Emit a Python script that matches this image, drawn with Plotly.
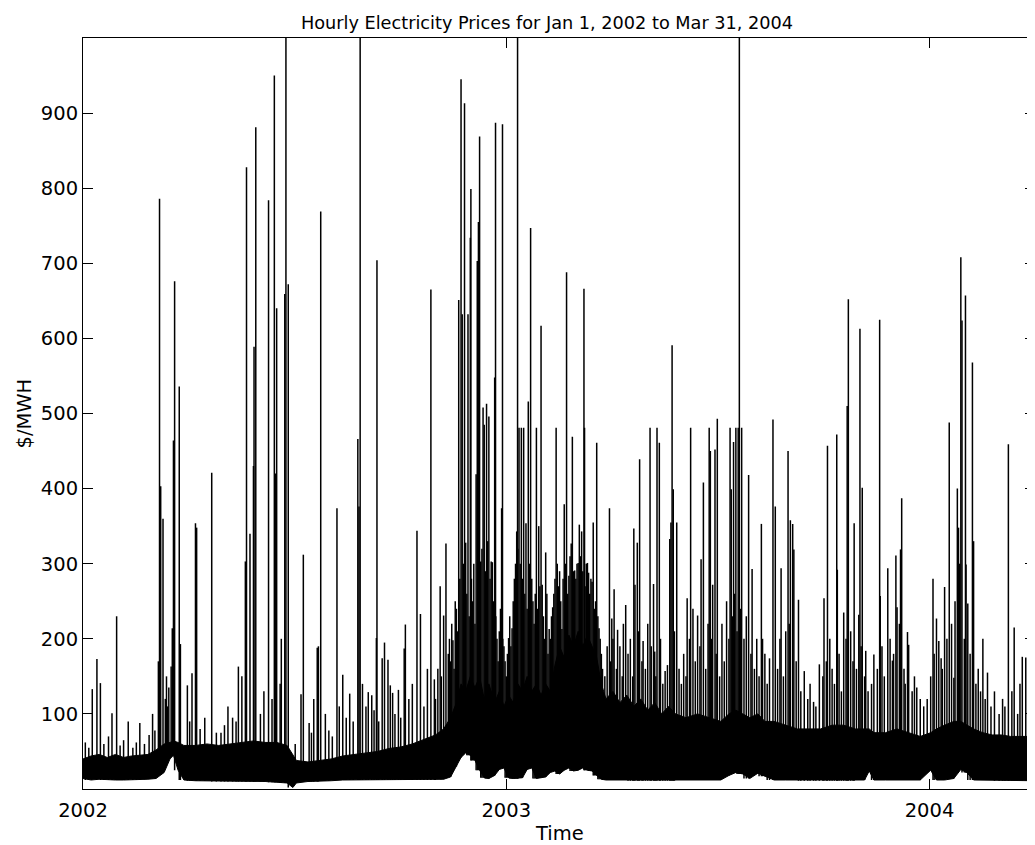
import pandas as pd
import plotly.graph_objects as go

# dense hourly band (low edge / top of the solid black mass)
band_dates = [
    "2002-01-01", "2002-01-08", "2002-01-15", "2002-01-22", "2002-01-29", "2002-02-05",
    "2002-02-12", "2002-02-19", "2002-02-26", "2002-03-05", "2002-03-12", "2002-03-17",
    "2002-03-20", "2002-03-24", "2002-03-29", "2002-04-08", "2002-04-18", "2002-04-28",
    "2002-05-08", "2002-05-18", "2002-05-28", "2002-06-07", "2002-06-17", "2002-06-26",
    "2002-07-01", "2002-07-04", "2002-07-14", "2002-07-24", "2002-08-03", "2002-08-13",
    "2002-08-23", "2002-09-02", "2002-09-12", "2002-09-22", "2002-10-02", "2002-10-12",
    "2002-10-22", "2002-11-01", "2002-11-08", "2002-11-14", "2002-11-19", "2002-11-23",
    "2002-11-27", "2002-12-01", "2002-12-05", "2002-12-09", "2002-12-13", "2002-12-17",
    "2002-12-22", "2002-12-26", "2002-12-30", "2003-01-03", "2003-01-07", "2003-01-11",
    "2003-01-15", "2003-01-19", "2003-01-23", "2003-01-27", "2003-01-31", "2003-02-04",
    "2003-02-08", "2003-02-12", "2003-02-16", "2003-02-20", "2003-02-24", "2003-02-28",
    "2003-03-04", "2003-03-08", "2003-03-12", "2003-03-16", "2003-03-20", "2003-03-24",
    "2003-03-28", "2003-04-03", "2003-04-09", "2003-04-15", "2003-04-21", "2003-04-27",
    "2003-05-03", "2003-05-09", "2003-05-15", "2003-05-21", "2003-05-27", "2003-06-05",
    "2003-06-15", "2003-06-25", "2003-07-05", "2003-07-12", "2003-07-18", "2003-07-24",
    "2003-07-30", "2003-08-06", "2003-08-12", "2003-08-20", "2003-08-30", "2003-09-09",
    "2003-09-19", "2003-09-29", "2003-10-09", "2003-10-19", "2003-10-29", "2003-11-06",
    "2003-11-10", "2003-11-14", "2003-11-24", "2003-12-04", "2003-12-14", "2003-12-24",
    "2004-01-02", "2004-01-07", "2004-01-14", "2004-01-22", "2004-01-28", "2004-02-02",
    "2004-02-08", "2004-02-16", "2004-02-24", "2004-03-03", "2004-03-11", "2004-03-19",
    "2004-03-26", "2004-03-31 23:00",
]
band_low = [
    14, 12, 13, 12, 12, 12,
    12, 12, 13, 14, 22, 40,
    45, 25, 12, 11, 11, 10,
    10, 10, 10, 10, 9, 8,
    2, 8, 10, 10, 11, 12,
    12, 12, 12, 12, 12, 12,
    12, 12, 13, 16, 30, 42,
    48, 45, 38, 25, 15, 14,
    18, 26, 28, 15, 14, 14,
    15, 26, 28, 14, 15, 16,
    22, 24, 20, 25, 28, 24,
    25, 28, 25, 24, 18, 13,
    12, 12, 12, 12, 11, 11,
    11, 11, 11, 11, 11, 12,
    12, 12, 12, 18, 22, 20,
    14, 21, 17, 12, 12, 12,
    11, 11, 11, 11, 11, 12,
    24, 12, 12, 12, 12, 12,
    25, 12, 12, 14, 26, 22,
    12, 12, 12, 11, 11, 11,
    11, 11,
]
band_high = [
    40, 44, 46, 42, 46, 42,
    44, 45, 46, 52, 60, 62,
    64, 62, 58, 58, 60, 58,
    60, 62, 64, 62, 62, 58,
    45, 38, 36, 38, 40, 44,
    46, 48, 50, 54, 56, 60,
    66, 72, 80, 95, 115, 140,
    130, 150, 135, 150, 120, 140,
    115, 130, 110, 125, 115, 140,
    130, 150, 130, 140, 125, 140,
    130, 165, 190, 175, 205, 190,
    210, 190, 205, 190, 175, 140,
    120, 130, 115, 125, 110, 120,
    105, 115, 100, 110, 100, 95,
    100, 95, 90, 100, 105, 100,
    95, 100, 90, 90, 85, 80,
    80, 80, 85, 85, 80, 80,
    80, 75, 75, 80, 75, 70,
    75, 80, 85, 90, 90, 85,
    80, 75, 72, 72, 70, 70,
    70, 70,
]

# tall individual price spikes
spike_dates = [
    "2002-01-09", "2002-01-13", "2002-01-16", "2002-01-26", "2002-01-30", "2002-02-09",
    "2002-02-19", "2002-03-04", "2002-03-07", "2002-03-08", "2002-03-09", "2002-03-11",
    "2002-03-18", "2002-03-19", "2002-03-20", "2002-03-21", "2002-03-25", "2002-03-26",
    "2002-04-01", "2002-04-05", "2002-04-08", "2002-04-09", "2002-04-22", "2002-04-30",
    "2002-05-10", "2002-05-15", "2002-05-21", "2002-05-22", "2002-05-25", "2002-05-28",
    "2002-05-28 12:00", "2002-05-30", "2002-06-10", "2002-06-13", "2002-06-15", "2002-06-16",
    "2002-06-17", "2002-06-24", "2002-06-25", "2002-06-27", "2002-07-08", "2002-07-10",
    "2002-07-15", "2002-07-22", "2002-07-23", "2002-07-25", "2002-08-01", "2002-08-08",
    "2002-08-13", "2002-08-16", "2002-08-19", "2002-08-26", "2002-08-27", "2002-08-28",
    "2002-09-04", "2002-09-07", "2002-09-11", "2002-09-11 12:00", "2002-09-16", "2002-09-18",
    "2002-09-21", "2002-09-23", "2002-09-25", "2002-09-30", "2002-10-05", "2002-10-06",
    "2002-10-16", "2002-10-19", "2002-10-28", "2002-10-31", "2002-11-05", "2002-11-08",
    "2002-11-10", "2002-11-13", "2002-11-16", "2002-11-18", "2002-11-21", "2002-11-23",
    "2002-11-24", "2002-11-26", "2002-11-27", "2002-11-29", "2002-12-01", "2002-12-01 12:00",
    "2002-12-06", "2002-12-07", "2002-12-08", "2002-12-09", "2002-12-10", "2002-12-12",
    "2002-12-13", "2002-12-15", "2002-12-17", "2002-12-19", "2002-12-20", "2002-12-22",
    "2002-12-22 18:00", "2002-12-28", "2002-12-28 18:00", "2003-01-03", "2003-01-06", "2003-01-10",
    "2003-01-10 18:00", "2003-01-12", "2003-01-14", "2003-01-16", "2003-01-18", "2003-01-20",
    "2003-01-22", "2003-01-27", "2003-01-29", "2003-01-31", "2003-02-01", "2003-02-04",
    "2003-02-07", "2003-02-10", "2003-02-13", "2003-02-18", "2003-02-20", "2003-02-22",
    "2003-02-24", "2003-02-26", "2003-02-27", "2003-03-01", "2003-03-04", "2003-03-05",
    "2003-03-07", "2003-03-09", "2003-03-09 12:00", "2003-03-12", "2003-03-13", "2003-03-16",
    "2003-03-17", "2003-03-20", "2003-03-22", "2003-03-31", "2003-04-02", "2003-04-04",
    "2003-04-07", "2003-04-14", "2003-04-21", "2003-04-22", "2003-04-24", "2003-04-26",
    "2003-04-29", "2003-05-05", "2003-05-08", "2003-05-09", "2003-05-11", "2003-05-13",
    "2003-05-18", "2003-05-20", "2003-05-22", "2003-05-23", "2003-05-24", "2003-05-25",
    "2003-05-28", "2003-06-06", "2003-06-09", "2003-06-11", "2003-06-15", "2003-06-18",
    "2003-06-20", "2003-06-25", "2003-06-26", "2003-06-28", "2003-06-30", "2003-07-02",
    "2003-07-13", "2003-07-14", "2003-07-16", "2003-07-18", "2003-07-20", "2003-07-21",
    "2003-07-23", "2003-07-29", "2003-08-01", "2003-08-09", "2003-08-10", "2003-08-16",
    "2003-08-19", "2003-08-21", "2003-08-26", "2003-09-01", "2003-09-03", "2003-09-05",
    "2003-09-06", "2003-09-10", "2003-09-15", "2003-09-23", "2003-09-28", "2003-10-02",
    "2003-10-05", "2003-10-11", "2003-10-13", "2003-10-13 12:00", "2003-10-19", "2003-10-22",
    "2003-10-23", "2003-10-28", "2003-11-01", "2003-11-02", "2003-11-04", "2003-11-07",
    "2003-11-14", "2003-11-19", "2003-11-19 12:00", "2003-11-26", "2003-11-30", "2003-12-03",
    "2003-12-04", "2003-12-07", "2003-12-08", "2003-12-13", "2003-12-14", "2003-12-21",
    "2003-12-24", "2004-01-04", "2004-01-07", "2004-01-09", "2004-01-11", "2004-01-14",
    "2004-01-18", "2004-01-22", "2004-01-25", "2004-01-26", "2004-01-28", "2004-01-29",
    "2004-02-01", "2004-02-01 12:00", "2004-02-03", "2004-02-07", "2004-02-08", "2004-02-16",
    "2004-02-20", "2004-03-09", "2004-03-14", "2004-03-21", "2004-03-24",
]
spike_prices = [
    133, 173, 141, 101, 230, 90,
    88, 78, 170, 786, 403, 360,
    163, 214, 464, 676, 536, 193,
    138, 154, 354, 348, 421, 75,
    95, 163, 303, 828, 340, 430,
    589, 881, 784, 120, 950, 420,
    640, 659, 1000, 672, 126, 312,
    88, 188, 190, 769, 78, 374,
    152, 95, 127, 466, 376, 1000,
    129, 125, 201, 704, 174, 195,
    172, 138, 128, 132, 187, 219,
    344, 233, 665, 146, 270, 231,
    327, 200, 198, 250, 651, 945,
    632, 913, 328, 632, 734, 799,
    419, 703, 755, 869, 303, 508,
    485, 513, 496, 303, 302, 548,
    887, 374, 885, 201, 214, 343,
    1000, 481, 481, 481, 354, 516,
    747, 481, 350, 617, 272, 315,
    213, 242, 481, 213, 379, 688,
    284, 327, 469, 291, 301, 352,
    343, 666, 481, 301, 288, 276,
    355, 461, 214, 374, 227, 266,
    212, 245, 347, 272, 328, 439,
    197, 481, 273, 183, 481, 461,
    157, 165, 333, 355, 591, 399,
    355, 254, 481, 240, 231, 306,
    408, 481, 450, 272, 452, 493,
    481, 399, 462, 481, 481, 1000,
    481, 418, 293, 353, 200, 174,
    492, 376, 294, 450, 358, 353,
    319, 252, 157, 116, 166, 254,
    457, 140, 472, 292, 235, 510,
    652, 354, 232, 613, 401, 184,
    179, 625, 257, 294, 171, 311,
    242, 319, 387, 209, 192, 135,
    120, 280, 227, 197, 174, 269,
    488, 148, 400, 348, 708, 624,
    657, 299, 247, 568, 330, 200,
    155, 459, 215, 176, 175,
]

# shorter spikes that make up the thicket just above the band
burst_dates = [
    "2002-01-03", "2002-01-06", "2002-01-19", "2002-01-23", "2002-02-02", "2002-02-05",
    "2002-02-13", "2002-02-16", "2002-02-23", "2002-02-27", "2002-03-02", "2002-03-13",
    "2002-03-14", "2002-03-15", "2002-03-16", "2002-04-03", "2002-04-12", "2002-04-16",
    "2002-04-26", "2002-05-03", "2002-05-06", "2002-05-13", "2002-05-18", "2002-06-03",
    "2002-06-06", "2002-06-20", "2002-06-21", "2002-07-03", "2002-07-17", "2002-07-19",
    "2002-07-29", "2002-08-04", "2002-08-10", "2002-08-22", "2002-08-30", "2002-09-02",
    "2002-09-09", "2002-09-13", "2002-09-27", "2002-10-02", "2002-10-09", "2002-10-12",
    "2002-10-22", "2002-10-25", "2002-11-01", "2002-11-03", "2002-11-06", "2002-11-12",
    "2002-11-14", "2002-11-15", "2002-11-17", "2002-11-19", "2002-11-20", "2002-11-22",
    "2002-11-25", "2002-11-28", "2002-11-30", "2002-12-02", "2002-12-03", "2002-12-04",
    "2002-12-05", "2002-12-11", "2002-12-14", "2002-12-16", "2002-12-18", "2002-12-21",
    "2002-12-23", "2002-12-24", "2002-12-25", "2002-12-26", "2002-12-27", "2002-12-29",
    "2002-12-30", "2002-12-31", "2003-01-01", "2003-01-02", "2003-01-04", "2003-01-05",
    "2003-01-07", "2003-01-08", "2003-01-09", "2003-01-11", "2003-01-13", "2003-01-15",
    "2003-01-17", "2003-01-19", "2003-01-21", "2003-01-23", "2003-01-24", "2003-01-25",
    "2003-01-26", "2003-01-28", "2003-01-30", "2003-02-02", "2003-02-03", "2003-02-05",
    "2003-02-06", "2003-02-08", "2003-02-09", "2003-02-11", "2003-02-12", "2003-02-14",
    "2003-02-15", "2003-02-16", "2003-02-17", "2003-02-19", "2003-02-21", "2003-02-23",
    "2003-02-25", "2003-02-28", "2003-03-02", "2003-03-03", "2003-03-06", "2003-03-08",
    "2003-03-10", "2003-03-11", "2003-03-14", "2003-03-15", "2003-03-18", "2003-03-19",
    "2003-03-21", "2003-03-23", "2003-03-24", "2003-03-25", "2003-03-27", "2003-03-29",
    "2003-04-01", "2003-04-03", "2003-04-06", "2003-04-09", "2003-04-11", "2003-04-12",
    "2003-04-16", "2003-04-18", "2003-04-20", "2003-04-25", "2003-04-28", "2003-05-01",
    "2003-05-03", "2003-05-06", "2003-05-10", "2003-05-14", "2003-05-16", "2003-05-26",
    "2003-05-30", "2003-06-01", "2003-06-03", "2003-06-05", "2003-06-08", "2003-06-13",
    "2003-06-17", "2003-06-22", "2003-06-24", "2003-06-27", "2003-07-01", "2003-07-04",
    "2003-07-06", "2003-07-08", "2003-07-10", "2003-07-12", "2003-07-15", "2003-07-17",
    "2003-07-19", "2003-07-22", "2003-07-25", "2003-07-27", "2003-07-31", "2003-08-03",
    "2003-08-05", "2003-08-07", "2003-08-12", "2003-08-14", "2003-08-23", "2003-08-25",
    "2003-08-28", "2003-08-30", "2003-09-02", "2003-09-08", "2003-09-12", "2003-09-18",
    "2003-09-20", "2003-09-25", "2003-10-01", "2003-10-04", "2003-10-07", "2003-10-09",
    "2003-10-15", "2003-10-17", "2003-10-21", "2003-10-25", "2003-10-27", "2003-10-30",
    "2003-11-03", "2003-11-06", "2003-11-09", "2003-11-12", "2003-11-17", "2003-11-21",
    "2003-11-23", "2003-11-28", "2003-12-01", "2003-12-06", "2003-12-10", "2003-12-11",
    "2003-12-17", "2003-12-19", "2003-12-27", "2003-12-30", "2004-01-02", "2004-01-05",
    "2004-01-12", "2004-01-16", "2004-01-20", "2004-01-23", "2004-01-27", "2004-01-31",
    "2004-02-05", "2004-02-10", "2004-02-12", "2004-02-14", "2004-02-18", "2004-02-23",
    "2004-02-26", "2004-03-01", "2004-03-04", "2004-03-06", "2004-03-12", "2004-03-17",
    "2004-03-19", "2004-03-27", "2004-03-29",
]
burst_prices = [
    62, 55, 60, 70, 58, 65,
    55, 62, 60, 72, 100, 120,
    150, 110, 135, 90, 80, 95,
    75, 85, 110, 90, 150, 100,
    130, 140, 200, 60, 75, 120,
    100, 70, 110, 90, 140, 110,
    105, 90, 100, 95, 120, 140,
    110, 160, 120, 160, 150, 180,
    170, 220, 160, 240, 210, 280,
    300, 260, 230, 280, 250, 300,
    220, 320, 290, 330, 280, 250,
    230, 200, 170, 210, 240, 200,
    190, 170, 150, 180, 230, 190,
    250, 280, 300, 320, 300, 280,
    260, 240, 300, 280, 250, 220,
    260, 240, 270, 230, 200, 260,
    180, 200, 230, 260, 280, 300,
    270, 290, 250, 280, 300, 260,
    310, 290, 280, 300, 310, 290,
    270, 300, 260, 280, 240, 250,
    230, 200, 180, 160, 150, 190,
    170, 200, 160, 190, 150, 220,
    180, 200, 150, 210, 170, 160,
    220, 190, 150, 200, 140, 210,
    160, 140, 180, 150, 200, 170,
    190, 160, 220, 200, 180, 150,
    220, 170, 250, 200, 230, 260,
    210, 240, 200, 230, 180, 160,
    200, 150, 180, 140, 160, 200,
    150, 210, 220, 170, 130, 120,
    140, 110, 150, 170, 200, 160,
    180, 130, 200, 210, 170, 160,
    190, 150, 130, 140, 160, 190,
    150, 200, 180, 220, 160, 140,
    130, 150, 110, 120, 150, 180,
    160, 200, 220, 250, 300, 200,
    180, 140, 160, 130, 120, 110,
    130, 100, 120, 110, 130, 100,
    140, 110, 150,
]

year_ticks = ["2002-01-01", "2003-01-01", "2004-01-01"]
year_labels = ["2002", "2003", "2004"]
price_ticks = [100, 200, 300, 400, 500, 600, 700, 800, 900]

# each spike is a vertical stroke rising out of the band
band_idx = pd.to_datetime(band_dates, format="ISO8601")
sx, sy = [], []
for d, p in zip(burst_dates + spike_dates, burst_prices + spike_prices):
    i = min(band_idx.searchsorted(pd.Timestamp(d)), len(band_dates) - 1)
    sx += [d, d, None]
    sy += [band_low[i], p, None]

fig = go.Figure()
fig.add_trace(go.Scatter(x=band_dates, y=band_low, mode="lines",
                         line=dict(color="black", width=1), hoverinfo="skip"))
fig.add_trace(go.Scatter(x=band_dates, y=band_high, mode="lines", fill="tonexty",
                         fillcolor="black", line=dict(color="black", width=1)))
fig.add_trace(go.Scatter(x=sx, y=sy, mode="lines", line=dict(color="black", width=1.5)))

# the page body has an 8px margin, so the figure is drawn 8px smaller
font = "DejaVu Sans"
fig.update_layout(
    width=1027, height=837,
    margin=dict(l=75, r=0, t=30, b=56),
    paper_bgcolor="white", plot_bgcolor="white",
    showlegend=False,
    font=dict(family=font, size=19.5, color="black"),
    title=dict(text="Hourly Electricity Prices for Jan 1, 2002 to Mar 31, 2004",
               font=dict(family=font, size=17.7, color="black"),
               xref="container", x=539 / 1027, xanchor="center",
               yref="container", y=1 - 15 / 837, yanchor="middle"),
    xaxis=dict(type="date", range=["2002-01-01", "2004-03-31 23:00"],
               tickvals=year_ticks, ticktext=year_labels, ticklabelstandoff=4,
               ticks="inside", ticklen=10, tickwidth=1, tickcolor="black",
               showline=True, linecolor="black", linewidth=1, mirror="ticks",
               showgrid=False, zeroline=False),
    yaxis=dict(range=[0, 1000], tickvals=price_ticks,
               ticks="inside", ticklen=10, tickwidth=1, tickcolor="black",
               showline=True, linecolor="black", linewidth=1, mirror="ticks",
               showgrid=False, zeroline=False),
    annotations=[
        dict(text="Time", xref="paper", yref="paper", x=0.5005, y=-(833.7 - 789) / 751,
             xanchor="center", yanchor="middle", showarrow=False,
             font=dict(family=font, size=19.5, color="black")),
        dict(text="$/MWH", xref="paper", yref="paper", x=(24 - 83) / 952, y=0.5,
             xanchor="center", yanchor="middle", textangle=-90, showarrow=False,
             font=dict(family=font, size=19.5, color="black")),
    ],
)

fig.write_html("out.html")
